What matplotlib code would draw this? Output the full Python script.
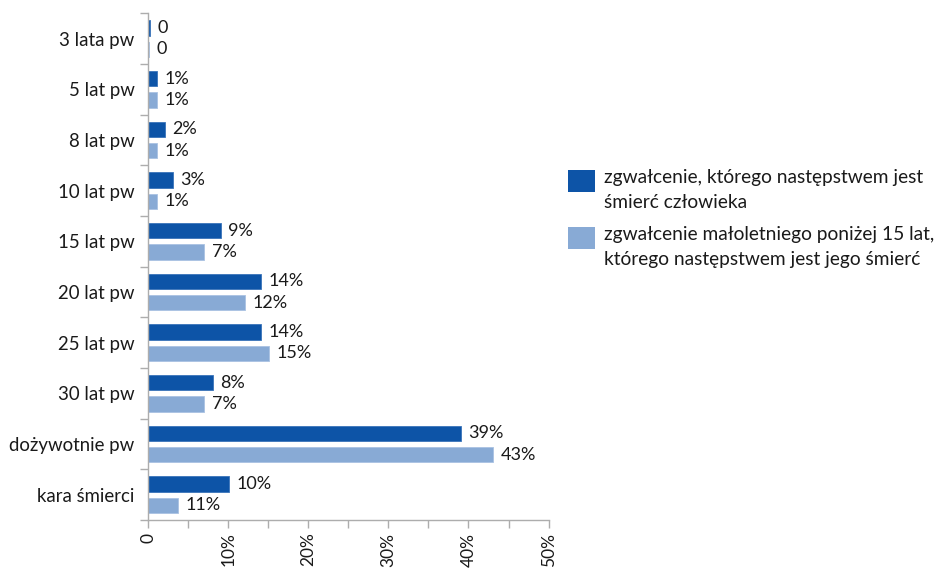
"""Wymiar kary za zgwałcenie ze skutkiem śmiertelnym - wykres słupkowy"""

import matplotlib
matplotlib.use('Agg')
import matplotlib.pyplot as plt
import numpy as np
from matplotlib.legend_handler import HandlerPatch
from matplotlib.patches import Patch, Rectangle

plt.rcParams['font.family'] = ['Lato', 'DejaVu Sans']

categories = ['3 lata pw', '5 lat pw', '8 lat pw', '10 lat pw', '15 lat pw',
              '20 lat pw', '25 lat pw', '30 lat pw', 'dożywotnie pw', 'kara śmierci']
series_names = ['zgwałcenie, którego następstwem jest\nśmierć człowieka',
                'zgwałcenie małoletniego poniżej 15 lat,\nktórego następstwem jest jego śmierć']
# długości słupków (%)
dark_values = [0.2, 1.05, 2.05, 3.05, 9.05, 14.05, 14.05, 8.05, 39.05, 10.05]
light_values = [0.1, 1.05, 1.05, 1.1, 7.0, 12.05, 15.05, 7.0, 43.1, 3.7]
# etykiety danych tak jak na oryginale
dark_labels = ['0', '1%', '2%', '3%', '9%', '14%', '14%', '8%', '39%', '10%']
light_labels = ['0', '1%', '1%', '1%', '7%', '12%', '15%', '7%', '43%', '11%']
x_ticks = [0, 10, 20, 30, 40, 50]
x_tick_labels = ['0', '10%', '20%', '30%', '40%', '50%']

DARK = '#0D54A7'
LIGHT = '#88AAD5'
TEXT = '#1A1A1A'
AXIS = '#ADADAD'


def square_at_top(legend, orig_handle, xdescent, ydescent, width, height, fontsize):
    """Kwadrat legendy podniesiony do pierwszej linii opisu"""
    return Rectangle((-xdescent, -ydescent + 7), width, height)


fig = plt.figure(figsize=(9.38, 5.69), dpi=100)
ax = fig.add_axes([0.1581, 0.0861, 0.4267, 0.8905])

y = np.arange(len(categories))
ax.barh(y - 0.21, dark_values, height=0.30, color=DARK, edgecolor='#3A74BA', lw=0.6)
ax.barh(y + 0.21, light_values, height=0.30, color=LIGHT, edgecolor='#A9C2E2', lw=0.6)

for yy, v, lab in zip(y - 0.21, dark_values, dark_labels):
    ax.annotate(lab, (v, yy), xytext=(5.5, 0), textcoords='offset points',
                va='center', ha='left', fontsize=13, color=TEXT)
for yy, v, lab in zip(y + 0.21, light_values, light_labels):
    ax.annotate(lab, (v, yy), xytext=(5.5, 0), textcoords='offset points',
                va='center', ha='left', fontsize=13, color=TEXT)

ax.set_xlim(0, 50)
ax.set_ylim(len(categories) - 0.5, -0.5)
ax.set_yticks(y)
ax.set_yticklabels(categories, fontsize=13.4, color=TEXT)
ax.set_yticks(np.arange(len(categories) + 1) - 0.5, minor=True)
ax.tick_params(axis='y', which='major', length=0, pad=10)
ax.tick_params(axis='y', which='minor', length=6, color=AXIS, width=1)

ax.set_xticks(x_ticks)
ax.set_xticklabels(x_tick_labels, rotation=90, fontsize=12.5, color=TEXT)
ax.set_xticks(np.arange(0, 51, 5), minor=True)
ax.tick_params(axis='x', which='both', length=5.5, color=AXIS, width=1, pad=3.5)

for side in ('top', 'right'):
    ax.spines[side].set_visible(False)
for side in ('left', 'bottom'):
    ax.spines[side].set_color(AXIS)
    ax.spines[side].set_linewidth(1)

handles = [Patch(facecolor=DARK), Patch(facecolor=LIGHT)]
leg = fig.legend(handles, series_names, loc='upper left', bbox_to_anchor=(0.5955, 0.72),
                 frameon=False, fontsize=13.8, handlelength=1.4, handleheight=1.42,
                 handletextpad=0.45, labelspacing=0.75, labelcolor=TEXT, borderpad=0,
                 handler_map={Patch: HandlerPatch(patch_func=square_at_top)})
for t in leg.get_texts():
    t.set_linespacing(1.6)

fig.savefig('out.png', dpi=100)
